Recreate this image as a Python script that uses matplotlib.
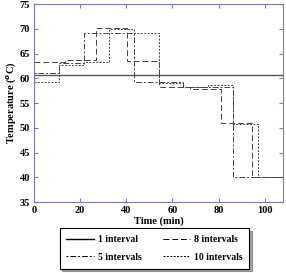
import matplotlib
matplotlib.use("Agg")
import matplotlib.pyplot as plt

# step profiles: interval edges (min) and temperature in each interval (deg C)
edges_1 = [0, 108]
temps_1 = [60.6]

edges_5 = [0, 10.8, 21.6, 43.2, 64.8, 86.4, 108]
temps_5 = [61.0, 63.0, 69.1, 59.3, 58.3, 40.0]

edges_8 = [0, 13.5, 27, 40.5, 54, 67.5, 81, 94.5, 108]
temps_8 = [63.3, 63.8, 70.2, 63.6, 58.2, 57.8, 51.0, 40.0]

edges_10 = [0, 10.8, 21.6, 32.4, 43.2, 54, 64.8, 75.6, 86.4, 97.2, 108]
temps_10 = [59.3, 62.7, 63.3, 70.0, 69.1, 59.0, 58.2, 58.6, 50.8, 40.0]

x_ticks = [0, 20, 40, 60, 80, 100]
y_ticks = [35, 40, 45, 50, 55, 60, 65, 70, 75]

plt.rcParams['font.family'] = ['Liberation Serif', 'DejaVu Serif']
plt.rcParams['font.weight'] = 'bold'

axis_col = '#7777cc'


def draw_profile(ax, edges, temps, **kw):
    # repeat last value so step draws the final interval
    return ax.step(edges, list(temps) + [temps[-1]], where='post', **kw)


fig = plt.figure(figsize=(2.86, 2.73), dpi=100)
ax = fig.add_axes([0.119, 0.26, 0.871, 0.725])

draw_profile(ax, edges_1, temps_1, color='#555555', lw=1.0, label='1 interval')
draw_profile(ax, edges_5, temps_5, color='#444444', lw=0.7,
             linestyle=(0, (2, 2, 6, 2)), label='5 intervals')
draw_profile(ax, edges_8, temps_8, color='#444444', lw=0.7,
             linestyle=(0, (6, 3)), label='8 intervals')
draw_profile(ax, edges_10, temps_10, color='#444444', lw=0.7,
             linestyle=(0, (2, 1.5)), label='10 intervals')

ax.set_xlim(0, 108)
ax.set_ylim(35, 75)
ax.set_xticks(x_ticks)
ax.set_yticks(y_ticks)
ax.tick_params(direction='in', length=3, width=0.8, color=axis_col,
               top=True, right=True, labelsize=7.5, pad=3)
for lab in ax.get_xticklabels() + ax.get_yticklabels():
    lab.set_fontweight('bold')
for sp in ax.spines.values():
    sp.set_color(axis_col)
    sp.set_linewidth(0.8)

ax.set_xlabel('Time (min)', fontsize=7.5, fontweight='bold', labelpad=1)
ax.set_ylabel('Temperature ($^o$C)', fontsize=7.5, fontweight='bold', labelpad=1)

leg = fig.legend(loc='center', bbox_to_anchor=(0.54, 0.09), ncol=2,
                 frameon=True, fancybox=False, shadow=True,
                 edgecolor='black', handlelength=2.8, handletextpad=0.4,
                 columnspacing=2.2, borderpad=0.7, labelspacing=0.9,
                 prop={'weight': 'bold', 'size': 7})
leg.get_frame().set_linewidth(0.8)
for h in leg.get_lines():
    h.set_color('black')

fig.savefig('out.png', dpi=100)
